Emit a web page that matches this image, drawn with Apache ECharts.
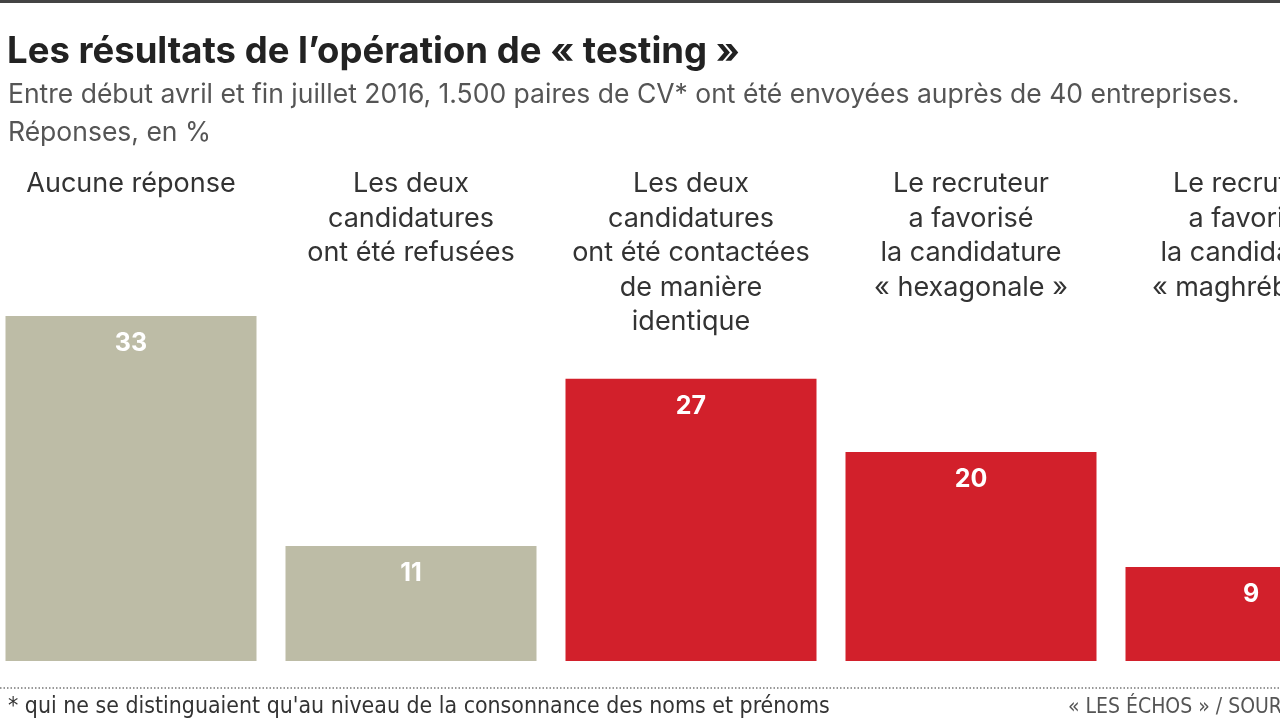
<!DOCTYPE html>
<html><head><meta charset="utf-8">
<script src="https://cdn.jsdelivr.net/npm/echarts@6/dist/echarts.min.js"></script>
<style>html,body{margin:0;padding:0;background:#fff;overflow:hidden;width:1280px;height:720px;position:relative}
#c{position:absolute;left:-9px;top:0;width:1400px;height:720px}</style>
</head><body><div id="c"></div>
<script>
const categories = [
  "Aucune réponse",
  "Les deux\ncandidatures\nont été refusées",
  "Les deux\ncandidatures\nont été contactées\nde manière\nidentique",
  "Le recruteur\na favorisé\nla candidature\n« hexagonale »",
  "Le recruteur\na favorisé\nla candidature\n« maghrébine »"
];
const values = [33, 11, 27, 20, 9];
const barColors = ["#bdbca6", "#bdbca6", "#d2202b", "#d2202b", "#d2202b"];

const OX = 9; // container offset
const chart = echarts.init(document.getElementById('c'));
const font = 'Inter, "Open Sans", sans-serif';
const narrow = '"Liberation Sans Narrow", "DejaVu Sans Condensed", sans-serif';
chart.setOption({
  backgroundColor: '#fff',
  animation: false,
  title: [
    {text: "Les résultats de l’opération de « testing »", left: 2 + OX, top: 29,
     textStyle: {fontFamily: font, fontSize: 36.5, fontWeight: 'bold', color: '#222'}},
    {text: "Entre début avril et fin juillet 2016, 1.500 paires de CV* ont été envoyées auprès de 40 entreprises.", left: 3 + OX, top: 77,
     textStyle: {fontFamily: font, fontSize: 26.5, fontWeight: 'normal', color: '#555'}},
    {text: "Réponses, en %", left: 3 + OX, top: 115,
     textStyle: {fontFamily: font, fontSize: 26.5, fontWeight: 'normal', color: '#555'}}
  ],
  grid: {left: 0, right: 0, top: 316, bottom: 59, containLabel: false},
  xAxis: {
    type: 'category', data: categories, position: 'top',
    axisLine: {show: false}, axisTick: {show: false},
    axisLabel: {margin: 149, verticalAlign: 'top', interval: 0, fontFamily: font, fontSize: 27,
      color: '#333', lineHeight: 34.5, align: 'center'}
  },
  yAxis: {type: 'value', min: 0, max: 33, show: false, splitLine: {show: false}},
  series: [{
    type: 'bar', barWidth: 251,
    data: values.map((v, i) => ({value: v, itemStyle: {color: barColors[i]}})),
    label: {show: true, position: 'insideTop', distance: 15, color: '#fff', fontFamily: font,
      fontSize: 25, fontWeight: 'bold'}
  }],
  graphic: [
    {type: 'rect', shape: {x: OX, y: 0, width: 1280, height: 3}, style: {fill: '#444'}},
    {type: 'line', shape: {x1: OX, y1: 688, x2: 1280 + OX, y2: 688},
     style: {stroke: '#777', lineWidth: 1.5, lineDash: [1.5, 2]}},
    {type: 'text', x: 8 + OX, y: 696, style: {text: "* qui ne se distinguaient qu'au niveau de la consonnance des noms et prénoms",
      font: '22.9px ' + narrow, fill: '#333'}},
    {type: 'text', x: 1068 + OX, y: 697, style: {text: "« LES ÉCHOS » / SOURCE",
      font: '21px ' + narrow, fill: '#555'}}
  ]
});
</script></body></html>
